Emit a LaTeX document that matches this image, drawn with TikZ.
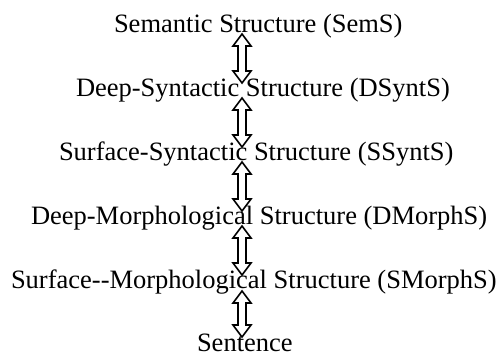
\documentclass[tikz,border=0pt]{standalone}
\usepackage{fontspec}
\setmainfont{Liberation Serif}
\usetikzlibrary{calc}
\tikzset{
  lbl/.style={anchor=base west, inner sep=0pt, outer sep=0pt, font=\fontsize{26.5}{30}\selectfont},
  dblarrow/.style={draw=black, line width=1.6pt, fill=white, line join=miter}
}
\newcommand\dblarr[2]{%
  \draw[dblarrow] let \p1=(#1), \p2=(#2) in
    (\x1,\y1) -- (\x1+9pt,\y1-12pt) -- (\x1+4pt,\y1-12pt) -- (\x1+4pt,\y2+12pt)
    -- (\x1+9pt,\y2+12pt) -- (\x2,\y2) -- (\x1-9pt,\y2+12pt) -- (\x1-4pt,\y2+12pt)
    -- (\x1-4pt,\y1-12pt) -- (\x1-9pt,\y1-12pt) -- cycle;}
\begin{document}
\begin{tikzpicture}[x=1pt,y=1pt]
\useasboundingbox[fill=white] (0,0) rectangle (501,-356);
\node[lbl] (sem) at (114,-32) {Semantic Structure (SemS)};
\node[lbl] (dsynt) at (76,-96) {Deep-Syntactic Structure (DSyntS)};
\node[lbl] (ssynt) at (59,-160) {Surface-Syntactic Structure (SSyntS)};
\node[lbl] (dmorph) at (31,-224) {Deep-Morphological Structure (DMorphS)};
\node[lbl] (smorph) at (11,-288) {Surface{-}{-}Morphological Structure (SMorphS)};
\node[lbl] (sent) at (197,-351) {Sentence};
\coordinate (t1) at (242,-34);  \coordinate (b1) at (242,-83);
\coordinate (t2) at (242,-98);  \coordinate (b2) at (242,-147);
\coordinate (t3) at (242,-162); \coordinate (b3) at (242,-211);
\coordinate (t4) at (242,-226); \coordinate (b4) at (242,-275);
\coordinate (t5) at (242,-291); \coordinate (b5) at (242,-337);
\dblarr{t1}{b1}
\dblarr{t2}{b2}
\dblarr{t3}{b3}
\dblarr{t4}{b4}
\dblarr{t5}{b5}
\end{tikzpicture}
\end{document}
